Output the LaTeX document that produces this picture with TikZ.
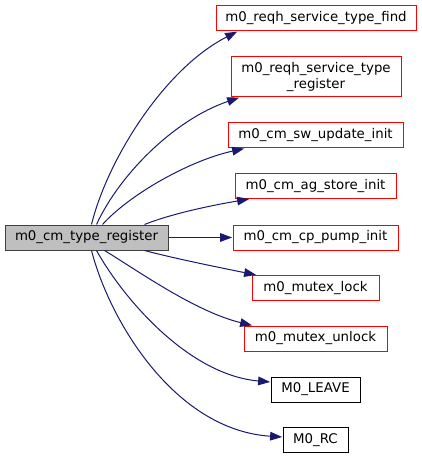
\documentclass[tikz,border=0pt]{standalone}
\usepackage{fontspec}
\setmainfont{DejaVu Sans}
\usetikzlibrary{arrows.meta,calc}
\definecolor{edgeblue}{HTML}{191970}
\definecolor{mainfill}{HTML}{BFBFBF}
\definecolor{mainborder}{HTML}{404040}
\tikzset{
  box/.style={draw, line width=0.75pt, inner sep=0pt, align=center, font=\fontsize{10}{12}\selectfont},
  redbox/.style={box, draw=red},
  blackbox/.style={box, draw=black},
  mainbox/.style={box, draw=mainborder, fill=mainfill},
  call/.style={draw=edgeblue, line width=0.75pt, -{Triangle[length=9pt,width=6.5pt]}, shorten >=0.3pt},
}
\begin{document}
\begin{tikzpicture}[x=0.75pt,y=-0.75pt]
\useasboundingbox (0,0) rectangle (421,459);
\node[mainbox, minimum width=163*0.75pt, minimum height=25*0.75pt] (m) at (86.5,237.5) {m0\_cm\_type\_register};
\node[redbox, minimum width=200*0.75pt, minimum height=25*0.75pt] (f1) at (316,18.5) {m0\_reqh\_service\_type\_find};
\node[redbox, minimum width=170*0.75pt, minimum height=40*0.75pt] (f2) at (316,77) {m0\_reqh\_service\_type\\\_register};
\node[redbox, minimum width=175*0.75pt, minimum height=25*0.75pt] (f3) at (315.5,135.5) {m0\_cm\_sw\_update\_init};
\node[redbox, minimum width=161*0.75pt, minimum height=25*0.75pt] (f4) at (315.5,186) {m0\_cm\_ag\_store\_init};
\node[redbox, minimum width=165*0.75pt, minimum height=25*0.75pt] (f5) at (315.5,237.5) {m0\_cm\_cp\_pump\_init};
\node[redbox, minimum width=127*0.75pt, minimum height=25*0.75pt] (f6) at (315.5,288) {m0\_mutex\_lock};
\node[redbox, minimum width=143*0.75pt, minimum height=25*0.75pt] (f7) at (315.5,338.5) {m0\_mutex\_unlock};
\node[blackbox, minimum width=89*0.75pt, minimum height=25*0.75pt] (f8) at (315.5,389.5) {M0\_LEAVE};
\node[blackbox, minimum width=65*0.75pt, minimum height=25*0.75pt] (f9) at (315.5,440) {M0\_RC};

\draw[call] ($(m.north west)+(87,0)$) .. controls +(16,-65) and +(-73,37) .. ($(f1.south west)+(22,0)$);
\draw[call] ($(m.north west)+(92,0)$) .. controls +(23,-50) and +(-65,22) .. ($(f2.south west)+(9,0)$);
\draw[call] ($(m.north west)+(98,0)$) .. controls +(27,-30) and +(-55,12) .. ($(f3.south west)+(17,0)$);
\draw[call] ($(m.north west)+(140,0)$) .. controls +(30,-12) and +(-30,5) .. ($(f4.south west)+(15,0)$);
\draw[call] (m.east) -- (f5.west);
\draw[call] ($(m.south west)+(140,0)$) .. controls +(30,8) and +(-30,-6) .. ($(f6.north west)+(5,0)$);
\draw[call] ($(m.south west)+(100,0)$) .. controls +(30,18) and +(-58,-14) .. ($(f7.north west)+(9,0)$);
\draw[call] ($(m.south west)+(92,0)$) .. controls +(28,50) and +(-81,-7) .. ($(f8.west)+(0,-7.5)$);
\draw[call] ($(m.south west)+(87,0)$) .. controls +(18,70) and +(-108,-7) .. ($(f9.west)+(0,-3)$);
\end{tikzpicture}
\end{document}
